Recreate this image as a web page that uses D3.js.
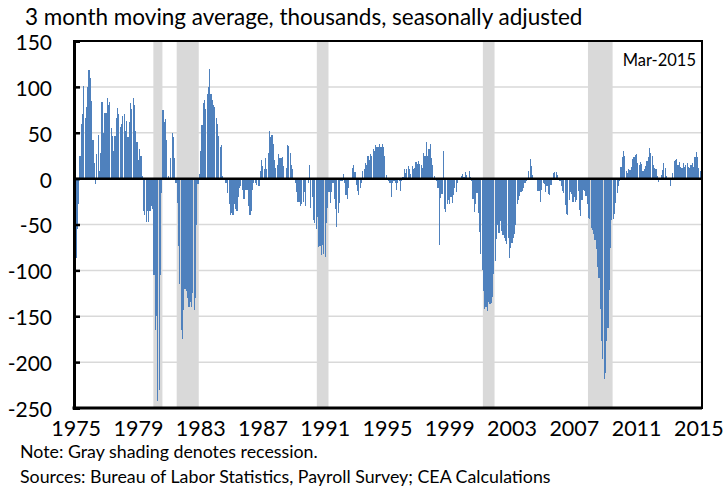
<!DOCTYPE html>
<html>
<head>
<meta charset="utf-8">
<script src="https://cdn.jsdelivr.net/npm/d3@7"></script>
<style>
  body { margin: 0; background: #fff; }
  svg text { font-family: Lato, "Open Sans", sans-serif; fill: #000; }
</style>
</head>
<body>
<svg id="chart" width="727" height="487"></svg>
<script>
// monthly change, 3 month moving average (thousands), Jan 1975 .. Mar 2015
const jobs1975to1979 = [
  -86, -55, -28, 25, 60, 70, 101, 66, 78, 100, 118, 110,
  85, 42, 17, -6, 27, 48, 8, 28, 84, 50, 72, 72,
  88, 80, 84, 55, 47, 30, 47, 66, 77, 70, 56, 60,
  68, 70, 52, 63, 45, 62, 82, 76, 88, 80, 52, 40,
  20, 32, 25, 3, -35, -40, -47, -35, -47, -35, -30, -33
]
const jobs1980to1984 = [
  -105, -165, -150, -242, -230, -105, -16, 75, 62, 65, 42, 3,
  0, 22, 50, 45, 22, -5, -27, -73, -115, -165, -175, -143,
  -120, -122, -130, -140, -135, -140, -125, -143, -130, -50, -6, 5,
  30, 58, 82, 86, 76, 92, 100, 120, 92, 86, 80, 78,
  66, 60, 47, 35, 37, 3, 0, -5, -5, -16, -28, -40
]
const jobs1985to1989 = [
  -38, -40, -28, -33, -35, -20, -10, -8, -12, -22, -22, -12,
  -12, -30, -40, -35, -12, -5, -5, -7, -2, -8, 8, 20,
  14, 10, 22, 10, 28, 52, 45, 48, 38, 20, 12, 15,
  27, 23, 22, 24, 14, 0, 12, 37, 36, 28, 15, 10,
  0, -5, -15, -25, -25, -30, -28, -25, -15, -30, -2, -5
]
const jobs1990to1994 = [
  15, -32, -20, -45, -48, -55, -42, -75, -73, -83, -72, -82,
  -85, -48, -32, -15, -27, -15, -5, -22, -33, -53, -38, -27,
  -3, -3, 5, -5, -18, -22, -10, -2, -2, 12, 15, 7,
  -7, -13, -18, -10, -5, 8, 10, 17, 15, 25, 20, 27,
  25, 32, 30, 37, 35, 35, 38, 35, 38, 35, 25, 4
]
const jobs1995to1999 = [
  0, -3, -5, -20, -5, -3, -5, -12, -5, -3, -13, -3,
  2, 11, 6, 11, 14, 10, 5, 14, 10, 12, 18, 16,
  19, 16, 15, 12, 28, 25, 40, 25, 32, 38, 22, 15,
  3, 1, -3, -10, -72, -21, -17, 30, -33, -36, -28, -23,
  -28, -20, -27, -18, -10, -15, -5, -2, 0, 3, 5, 2
]
const jobs2000to2004 = [
  7, 4, -2, 8, 2, -3, -22, -36, -28, -16, -38, -58,
  -82, -100, -123, -142, -140, -144, -134, -137, -136, -129, -104, -90,
  -66, -50, -59, -46, -57, -61, -65, -68, -71, -65, -87, -76,
  -70, -65, -60, -50, -28, -23, -19, -15, -14, -10, -5, -3,
  0, 8, 21, 14, 4, 1, 0, -2, -13, -14, -25, -12
]
const jobs2005to2009 = [
  -5, -6, -15, -8, -17, -18, -7, 0, 6, 7, 7, 4,
  -2, -3, -8, -14, -16, -29, -39, -40, -23, -15, -17, -26,
  -20, -25, -23, -14, -34, -41, -23, -12, -14, -19, -28, -43,
  -44, -54, -56, -60, -67, -77, -96, -108, -142, -177, -197, -218,
  -212, -177, -163, -121, -76, -45, -44, -39, -27, -16, -8, -3
]
const jobs2010to2015 = [
  13, 24, 30, 25, 8, 6, 10, 9, 13, 21, 24, 26,
  27, 17, 15, 18, 16, 8, 11, 14, 19, 24, 33, 28,
  25, 15, 12, 10, 3, -4, 1, 4, 9, 17, 12, 3,
  1, 0, -8, 1, 6, 19, 20, 21, 15, 18, 13, 12,
  17, 13, 15, 17, 13, 12, 15, 17, 13, 24, 29, 24,
  12, 8, 6
]

const recessions = [
  ["1980-01", "1980-07"],
  ["1981-07", "1982-11"],
  ["1990-07", "1991-03"],
  ["2001-03", "2001-11"],
  ["2007-12", "2009-06"]
]
const yTicks = [150, 100, 50, 0, -50, -100, -150, -200, -250]
const xTickYears = [1975, 1979, 1983, 1987, 1991, 1995, 1999, 2003, 2007, 2011, 2015]
const startYear = 1975

const values = [].concat(jobs1975to1979, jobs1980to1984, jobs1985to1989, jobs1990to1994,
  jobs1995to1999, jobs2000to2004, jobs2005to2009, jobs2010to2015)

const monthIndex = s => {
  let [yy, mm] = s.split("-").map(Number)
  return (yy - startYear) * 12 + (mm - 1)
}

const plot = { left: 74, right: 702, top: 41, bottom: 408 }
const svg = d3.select("#chart")

const x = d3.scaleBand()
  .domain(d3.range(values.length))
  .range([plot.left + 1.5, plot.right])
  .paddingInner(0.1)
  .paddingOuter(0)

const y = d3.scaleLinear()
  .domain([-250, 150])
  .range([plot.bottom, plot.top])

// recession shading
svg.append("g")
  .selectAll("rect")
  .data(recessions)
  .join("rect")
  .attr("x", d => x(monthIndex(d[0])))
  .attr("width", d => x(monthIndex(d[1])) + x.step() - x(monthIndex(d[0])))
  .attr("y", plot.top)
  .attr("height", plot.bottom - plot.top)
  .attr("fill", "#d9d9d9")

// gridlines
svg.append("g")
  .selectAll("line")
  .data(yTicks.filter(t => t != 0 && t != 150 && t != -250))
  .join("line")
  .attr("x1", plot.left)
  .attr("x2", plot.right)
  .attr("y1", d => y(d))
  .attr("y2", d => y(d))
  .attr("stroke", "#d9d9d9")
  .attr("stroke-width", 1.5)

// bars, crisp so they show the same 1px gaps as the original
svg.append("g")
  .attr("shape-rendering", "crispEdges")
  .selectAll("rect")
  .data(values)
  .join("rect")
  .attr("x", (d, i) => x(i))
  .attr("width", x.bandwidth())
  .attr("y", d => y(Math.max(0, d)))
  .attr("height", d => Math.abs(y(d) - y(0)))
  .attr("fill", "#4f81bd")

// zero line
svg.append("line")
  .attr("x1", plot.left)
  .attr("x2", plot.right)
  .attr("y1", y(0))
  .attr("y2", y(0))
  .attr("stroke", "#000")
  .attr("stroke-width", 2.5)

// frame
svg.append("rect")
  .attr("x", plot.left)
  .attr("y", plot.top)
  .attr("width", plot.right - plot.left)
  .attr("height", plot.bottom - plot.top)
  .attr("fill", "none")
  .attr("stroke", "#000")
  .attr("stroke-width", 2)

// y axis
let yAxis = svg.append("g")
  .attr("transform", `translate(${plot.left},0)`)
  .call(d3.axisLeft(y).tickValues(yTicks).tickFormat(d => String(d)).tickSize(-6).tickPadding(22))
yAxis.select(".domain").attr("stroke-width", 3)
yAxis.selectAll(".tick line").attr("stroke-width", 2.5)
yAxis.selectAll("text")
  .attr("font-size", 21)
  .attr("dy", "0.4em")
  .style("font-family", "Lato, sans-serif")

// bottom axis line
svg.append("line")
  .attr("x1", plot.left - 1.5)
  .attr("x2", plot.right)
  .attr("y1", plot.bottom)
  .attr("y2", plot.bottom)
  .attr("stroke", "#000")
  .attr("stroke-width", 3)

// x labels
svg.append("g")
  .selectAll("text")
  .data(xTickYears)
  .join("text")
  .attr("x", d => x((d - startYear) * 12) + x.step() / 2)
  .attr("y", 436)
  .attr("text-anchor", "middle")
  .attr("font-size", 21.5)
  .text(d => d)

// texts
svg.append("text")
  .attr("x", 25)
  .attr("y", 25)
  .attr("font-size", 22.5)
  .text("3 month moving average, thousands, seasonally adjusted")

svg.append("text")
  .attr("x", 696)
  .attr("y", 66)
  .attr("text-anchor", "end")
  .attr("font-size", 16.5)
  .text("Mar-2015")

svg.append("text")
  .attr("x", 20)
  .attr("y", 458)
  .attr("font-size", 17.8)
  .text("Note: Gray shading denotes recession.")

svg.append("text")
  .attr("x", 20)
  .attr("y", 483)
  .attr("font-size", 17.8)
  .text("Sources: Bureau of Labor Statistics, Payroll Survey; CEA Calculations")
</script>
</body>
</html>
